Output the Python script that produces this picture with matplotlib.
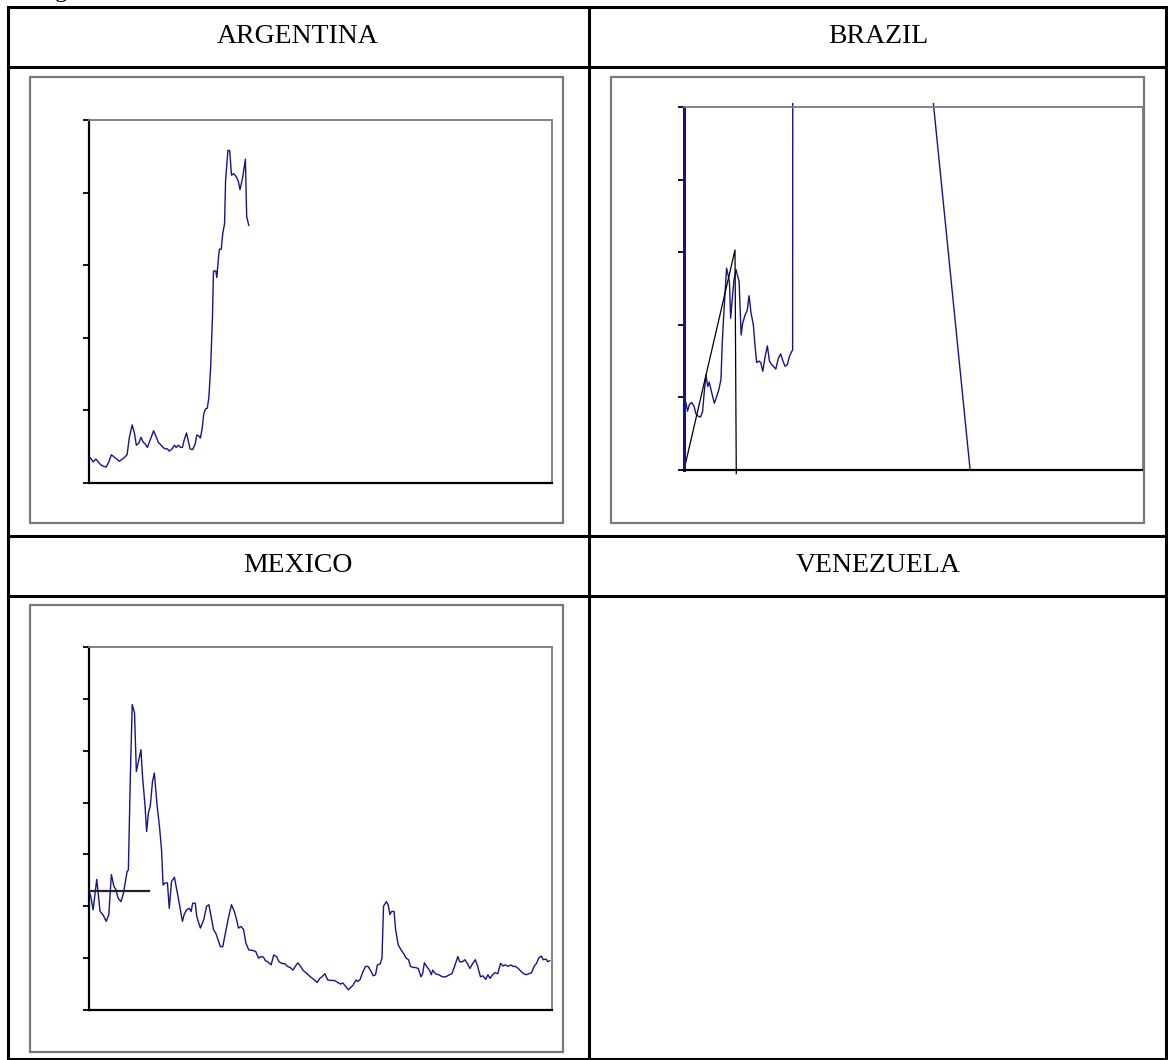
import matplotlib
matplotlib.use("Agg")
import matplotlib.pyplot as plt
from matplotlib.lines import Line2D
from matplotlib.patches import Rectangle

W, H = 1168, 1060

# --- data (t = months from start, values in tick units) ---
countries = ["ARGENTINA", "BRAZIL", "MEXICO", "VENEZUELA"]

arg_t = [0, 0.7, 1.6, 2.7, 3.6, 4.6, 5.6, 6.7, 7.7, 8.7,
         9.7, 10.8, 11.7, 12.6, 13.7, 14.8, 15.7, 16.8, 17.7, 18.4,
         19.4, 20.2, 21.1, 21.8, 22.7, 23.4, 24.2, 25.1, 26.1, 26.9,
         27.8, 28.8, 29.6, 30.5, 31.2, 32.3, 33.2, 33.9, 34.8, 35.6,
         36.3, 37.0, 37.9, 38.6, 39.3, 40.3, 41.3, 41.9, 42.6, 43.3,
         44.0, 44.6, 45.3, 46.0, 46.6, 47.3, 48.0, 48.4, 49.3, 49.7,
         50.3, 50.7, 51.4, 52.0, 52.7, 53.1, 54.0, 54.7, 55.4, 56.3,
         57.4, 58.1, 58.7, 59.7, 60.8, 61.3, 62.1]
arg_v = [0.36, 0.34, 0.29, 0.33, 0.29, 0.25, 0.23, 0.22, 0.29, 0.39,
         0.36, 0.33, 0.30, 0.32, 0.35, 0.39, 0.63, 0.80, 0.68, 0.52,
         0.55, 0.63, 0.56, 0.54, 0.49, 0.56, 0.63, 0.72, 0.64, 0.56,
         0.53, 0.49, 0.47, 0.47, 0.44, 0.47, 0.52, 0.49, 0.52, 0.49,
         0.49, 0.59, 0.69, 0.58, 0.47, 0.46, 0.54, 0.66, 0.65, 0.62,
         0.75, 0.95, 1.02, 1.03, 1.18, 1.60, 2.29, 2.92, 2.92, 2.83,
         3.09, 3.22, 3.22, 3.44, 3.57, 4.17, 4.58, 4.58, 4.24, 4.26,
         4.21, 4.15, 4.04, 4.20, 4.46, 3.67, 3.55]

bra_t = [0, 0.8, 1.4, 2.1, 3.0, 3.9, 4.7, 5.6, 6.5, 7.3,
         7.9, 8.6, 9.3, 9.9, 10.9, 11.9, 12.8, 13.7, 14.5, 15.0,
         15.7, 16.7, 17.4, 17.8, 18.3, 19.0, 19.6, 20.4, 20.9, 21.6,
         22.4, 23.0, 23.9, 24.8, 25.5, 26.3, 27.2, 27.8, 28.5, 29.4,
         30.1, 30.9, 31.8, 32.7, 33.5, 34.4, 35.0, 36.0, 37.0, 37.9,
         38.7, 39.6, 40.5, 41.3, 42.2, 42.6, 42.9, 112.2]
bra_v = [0.97, 0.92, 0.81, 0.90, 0.93, 0.88, 0.77, 0.74, 0.73, 0.81,
         1.06, 1.31, 1.15, 1.21, 1.06, 0.92, 1.01, 1.11, 1.25, 1.75,
         2.21, 2.78, 2.67, 2.60, 2.09, 2.39, 2.62, 2.76, 2.69, 2.60,
         1.86, 2.02, 2.13, 2.20, 2.40, 2.16, 2.00, 1.73, 1.48, 1.50,
         1.48, 1.36, 1.56, 1.71, 1.50, 1.45, 1.43, 1.39, 1.54, 1.60,
         1.51, 1.43, 1.45, 1.56, 1.63, 1.65, 24.3, 0.0]
bra_ref_t = [0, 20.0, 20.5]
bra_ref_v = [0, 3.03, -0.05]

mex_t = [0, 0.7, 1.6, 3.0, 4.3, 5.4, 6.7, 7.7, 8.7, 9.7,
         10.4, 11.3, 12.4, 13.4, 14.8, 15.3, 16.1, 16.8, 17.7, 18.4,
         19.4, 20.2, 20.8, 21.8, 22.4, 23.1, 23.8, 24.7, 25.4, 26.5,
         27.4, 28.2, 28.8, 29.6, 30.5, 31.2, 32.1, 33.2, 34.1, 35.2,
         36.3, 37.0, 37.9, 39.0, 39.7, 40.3, 41.3, 41.9, 43.3, 44.6,
         45.7, 46.6, 47.6, 48.4, 49.3, 50.0, 51.1, 52.0, 53.4, 54.3,
         55.4, 56.5, 57.4, 58.1, 59.1, 60.1, 61.0, 62.1, 63.4, 64.8,
         65.9, 66.8, 67.8, 68.6, 69.5, 70.8, 71.8, 72.9, 73.9, 74.9,
         76.2, 77.2, 78.2, 79.3, 80.3, 81.2, 82.3, 83.3, 84.3, 85.2,
         86.3, 87.6, 88.7, 89.7, 90.6, 91.7, 92.8, 94.1, 95.4, 96.8,
         97.7, 98.7, 99.7, 100.8, 101.8, 102.7, 103.8, 104.5, 105.4, 106.5,
         107.5, 108.5, 109.4, 110.5, 111.4, 112.1, 113.2, 113.9, 114.5, 115.6,
         116.3, 117.0, 117.6, 118.6, 119.2, 120.2, 121.3, 122.3, 123.3, 124.2,
         125.0, 126.0, 126.9, 128.0, 129.1, 129.7, 130.4, 131.3, 132.3, 133.1,
         133.6, 134.7, 136.0, 137.4, 138.7, 140.1, 141.1, 142.1, 143.4, 144.1,
         145.2, 146.1, 147.1, 148.1, 149.2, 150.2, 151.1, 152.2, 153.2, 154.2,
         155.1, 155.9, 156.9, 157.8, 158.9, 160.0, 160.9, 161.9, 162.9, 164.0,
         164.9, 165.9, 166.9, 168.0, 169.0, 169.9, 171.0, 172.1, 173.0, 174.0,
         174.8, 175.8, 176.6, 177.7, 178.4, 179.1]
mex_v = [2.29, 2.19, 1.93, 2.52, 1.90, 1.84, 1.71, 1.84, 2.61, 2.38,
         2.33, 2.16, 2.09, 2.25, 2.67, 2.70, 4.57, 5.89, 5.73, 4.60,
         4.83, 5.02, 4.51, 3.93, 3.44, 3.80, 3.93, 4.41, 4.57, 3.93,
         3.54, 3.09, 2.41, 2.45, 2.45, 1.96, 2.48, 2.56, 2.32, 2.03,
         1.71, 1.84, 1.93, 1.96, 1.90, 2.06, 2.06, 1.80, 1.58, 1.74,
         2.00, 2.03, 1.77, 1.55, 1.48, 1.38, 1.22, 1.22, 1.58, 1.80,
         2.03, 1.90, 1.74, 1.58, 1.61, 1.55, 1.29, 1.16, 1.15, 1.13,
         1.00, 1.03, 1.02, 0.95, 0.93, 0.87, 1.06, 1.03, 0.93, 0.90,
         0.89, 0.84, 0.82, 0.77, 0.85, 0.91, 0.84, 0.76, 0.72, 0.68,
         0.63, 0.58, 0.53, 0.61, 0.64, 0.70, 0.58, 0.57, 0.57, 0.53,
         0.50, 0.52, 0.46, 0.39, 0.44, 0.48, 0.58, 0.55, 0.59, 0.74,
         0.84, 0.84, 0.77, 0.66, 0.68, 0.87, 0.89, 1.00, 2.00, 2.09,
         2.03, 1.84, 1.90, 1.90, 1.55, 1.26, 1.16, 1.09, 1.00, 0.97,
         0.84, 0.82, 0.82, 0.80, 0.64, 0.70, 0.91, 0.84, 0.77, 0.68,
         0.77, 0.70, 0.68, 0.64, 0.64, 0.68, 0.70, 0.84, 1.03, 0.93,
         0.93, 0.97, 0.90, 0.80, 0.90, 0.97, 0.84, 0.64, 0.66, 0.59,
         0.68, 0.61, 0.68, 0.72, 0.70, 0.90, 0.85, 0.87, 0.84, 0.87,
         0.84, 0.84, 0.80, 0.74, 0.70, 0.68, 0.70, 0.72, 0.84, 0.90,
         1.00, 1.04, 0.97, 0.98, 0.93, 0.95]
mex_ref_t = [0, 23.5]
mex_ref_v = [2.29, 2.29]

NAVY = "#14148c"
GRAY = "#7a7a7a"


def fx(x):
    return x / W


def fy(y):
    return 1 - y / H


fig = plt.figure(figsize=(W / 100, H / 100), dpi=100)
fig.patch.set_facecolor("white")

# --- table grid ---
def hline(y, x0, x1):
    fig.add_artist(Line2D([fx(x0), fx(x1)], [fy(y), fy(y)], transform=fig.transFigure,
                          color="black", lw=2.2, solid_capstyle="projecting"))


def vline(x, y0, y1):
    fig.add_artist(Line2D([fx(x), fx(x)], [fy(y0), fy(y1)], transform=fig.transFigure,
                          color="black", lw=2.2, solid_capstyle="projecting"))


for y in [7, 67, 536, 596, 1059]:
    hline(y, 8, 1166)
for x in [8, 589, 1166]:
    vline(x, 7, 1059)

# cut-off caption above the table (only the descender shows, as in the source)
fig.text(fx(34), fy(-2.5), "Fig", fontsize=18, family="Liberation Serif", va="baseline")

# header labels
hdr = dict(fontsize=20, family="Liberation Serif", ha="center", va="baseline")
fig.text(fx(298), fy(43), countries[0], **hdr)
fig.text(fx(878), fy(43), countries[1], **hdr)
fig.text(fx(298), fy(572), countries[2], **hdr)
fig.text(fx(878), fy(572), countries[3], **hdr)

# chart frames
for (x0, y0, x1, y1) in [(30, 77, 563, 523), (611, 77, 1144, 523), (30, 605, 563, 1052)]:
    fig.add_artist(Rectangle((fx(x0), fy(y1)), fx(x1) - fx(x0), fy(y0) - fy(y1),
                             transform=fig.transFigure, fill=False, ec=GRAY, lw=1.6))


def make_axes(x0, y0, x1, y1, ymax):
    ax = fig.add_axes([fx(x0), fy(y1), fx(x1) - fx(x0), fy(y0) - fy(y1)])
    ax.set_xlim(0, 180)
    ax.set_ylim(0, ymax)
    ax.set_xticks([])
    ax.set_yticks(range(0, ymax + 1))
    ax.tick_params(axis="y", direction="out", length=4, width=1.3, labelleft=False, colors="black")
    for s in ["left", "bottom"]:
        ax.spines[s].set_color("black")
        ax.spines[s].set_linewidth(1.6)
    for s in ["top", "right"]:
        ax.spines[s].set_color(GRAY)
        ax.spines[s].set_linewidth(1.3)
    return ax


# --- Argentina ---
ax1 = make_axes(89, 120, 552, 483, 5)
ax1.plot(arg_t, arg_v, color=NAVY, lw=1.0)

# --- Brazil ---
ax2 = make_axes(684, 107, 1143, 470, 5)
ax2.spines["left"].set_color(NAVY)
ax2.spines["left"].set_linewidth(2.2)
clip = Rectangle((0, 0), 1, 1.0105, transform=ax2.transAxes, fill=False, visible=False)
ax2.add_patch(clip)
ln, = ax2.plot(bra_t, bra_v, color=NAVY, lw=1.0)
ln.set_clip_path(clip)
ax2.plot(bra_ref_t, bra_ref_v, color="black", lw=0.9, clip_on=False)

# --- Mexico ---
ax3 = make_axes(89, 647, 552, 1010, 7)
ax3.plot(mex_ref_t, mex_ref_v, color="#222222", lw=1.6, zorder=3)
ax3.plot(mex_t, mex_v, color=NAVY, lw=1.0, zorder=2)

fig.savefig("out.png", dpi=100, facecolor="white")
